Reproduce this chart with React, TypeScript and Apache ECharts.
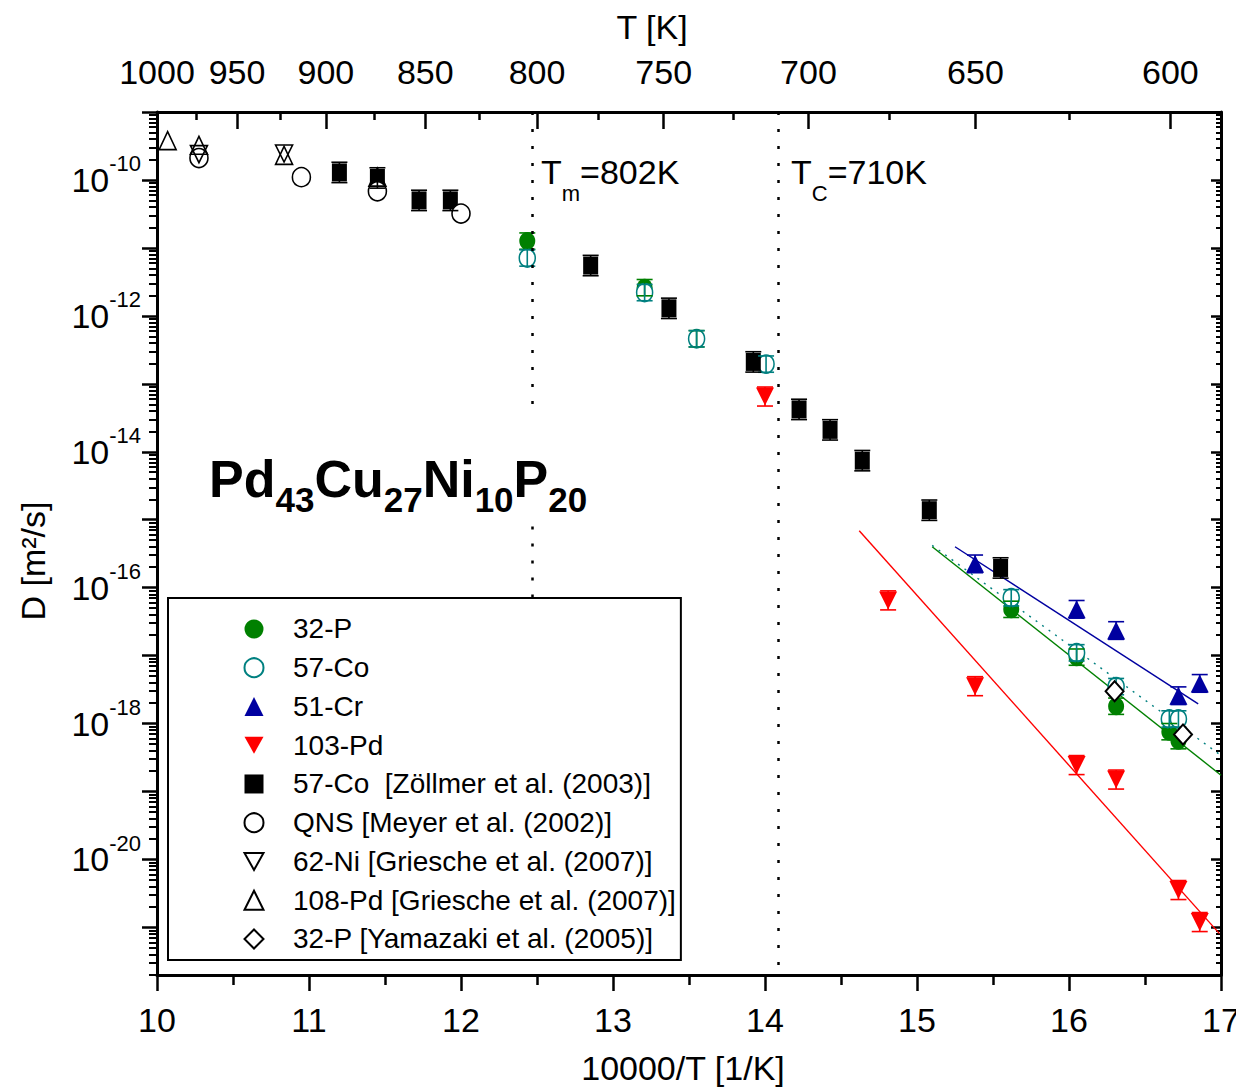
import React, { useEffect, useRef } from 'react';
import * as echarts from 'echarts';

const SANS = "'Liberation Sans', Arial, Helvetica, sans-serif";

// x = 10000/T [1/K], D [m^2/s]
const p32X = [12.436, 13.208, 13.55, 15.62, 16.05, 16.31, 16.66, 16.72];
const p32D = [1.26e-11, 2.6e-12, 4.6e-13, 4.8e-17, 9.5e-18, 1.8e-18, 7.6e-19, 5.6e-19];
const co57X = [12.436, 13.208, 13.55, 14.007, 15.62, 16.05, 16.31, 16.66, 16.72];
const co57D = [7.1e-12, 2.2e-12, 4.6e-13, 1.95e-13, 7.1e-17, 1.1e-17, 3.5e-18, 1.17e-18, 1.17e-18];
const cr51X = [15.382, 16.05, 16.31, 16.72, 16.86];
const cr51D = [2.24e-16, 4.8e-17, 2.34e-17, 2.57e-18, 3.9e-18];
const pd103X = [14.0, 14.81, 15.382, 16.05, 16.31, 16.72, 16.86];
const pd103D = [6.5e-14, 6.5e-17, 3.55e-18, 2.45e-19, 1.5e-19, 3.55e-21, 1.2e-21];
const zolX = [11.2, 11.45, 11.724, 11.93, 12.853, 13.368, 13.923, 14.224, 14.428, 14.64, 15.081, 15.55];
const zolD = [1.29e-10, 1.07e-10, 5.0e-11, 5.0e-11, 5.5e-12, 1.29e-12, 2.1e-13, 4.2e-14, 2.1e-14, 7.4e-15, 1.38e-15, 1.95e-16];
const qnsX = [10.276, 10.95, 11.45, 12.0];
const qnsD = [2.1e-10, 1.1e-10, 6.8e-11, 3.2e-11];
const ni62X = [10.276, 10.836];
const ni62D = [2.4e-10, 2.45e-10];
const pd108X = [10.07, 10.276, 10.836, 11.45];
const pd108D = [3.8e-10, 3.24e-10, 2.3e-10, 1.1e-10];
const yamX = [16.3, 16.75];
const yamD = [3.0e-18, 6.9e-19];

// Arrhenius fit lines (end points)
const fitPdX = [14.62, 16.99];
const fitPdD = [6.9e-16, 8.1e-22];
const fitPX = [15.1, 17.0];
const fitPD = [4.0e-16, 1.74e-19];
const fitCoX = [15.1, 17.0];
const fitCoD = [4.2e-16, 3.4e-19];
const fitCrX = [15.25, 16.85];
const fitCrD = [4.0e-16, 1.95e-18];

// error half-widths in decades
const errP32 = 0.12;
const errCo57 = 0.12;
const errCr51 = 0.13;
const errPd103 = 0.14;
const errZol = 0.15;

const TM = 802;
const TC = 710;
const topMajorT = [1000, 950, 900, 850, 800, 750, 700, 650, 600];
const topMinorT = [975, 925, 875, 825, 775, 725, 675, 625];
const yLabelExp = [-20, -18, -16, -14, -12, -10];
const X_MIN = 10;
const X_MAX = 17;
const Y_MIN = -21.7;
const Y_MAX = -9;

const legendNames = [
  '32-P',
  '57-Co',
  '51-Cr',
  '103-Pd',
  '57-Co  [Zöllmer et al. (2003)]',
  'QNS [Meyer et al. (2002)]',
  '62-Ni [Griesche et al. (2007)]',
  '108-Pd [Griesche et al. (2007)]',
  '32-P [Yamazaki et al. (2005)]',
];

const GREEN = '#008000';
const TEAL = '#008080';
const BLUE = '#0000A0';
const RED = '#FF0000';
const DOWN = 'path://M0,0L20,0L10,18Z';

const pts = (xs: number[], ds: number[]) => xs.map((x, i) => [x, Math.log10(ds[i])]);

function scatter(name: string, xs: number[], ds: number[], symbol: string, size: number[], itemStyle: any, z = 3) {
  return {
    type: 'scatter',
    name,
    data: pts(xs, ds),
    symbol,
    symbolSize: size,
    itemStyle: { opacity: 1, ...itemStyle },
    z,
    silent: true,
  };
}

function errBars(name: string, xs: number[], ds: number[], e: number, color: string) {
  return {
    type: 'custom',
    name,
    silent: true,
    z: 4,
    itemStyle: { color, opacity: 1 },
    data: xs.map((x, i) => {
      const l = Math.log10(ds[i]);
      return [x, l - e, l + e];
    }),
    encode: { x: 0, y: [1, 2] },
    renderItem: (params: any, api: any) => {
      const x = api.value(0);
      const lo = api.coord([x, api.value(1)]);
      const hi = api.coord([x, api.value(2)]);
      const w = 8;
      const st = { stroke: color, fill: 'none', lineWidth: 1.6, opacity: 1 };
      return {
        type: 'group',
        children: [
          { type: 'line', shape: { x1: lo[0], y1: lo[1], x2: hi[0], y2: hi[1] }, style: st },
          { type: 'line', shape: { x1: lo[0] - w, y1: lo[1], x2: lo[0] + w, y2: lo[1] }, style: st },
          { type: 'line', shape: { x1: hi[0] - w, y1: hi[1], x2: hi[0] + w, y2: hi[1] }, style: st },
        ],
      };
    },
  };
}

function fit(name: string, xs: number[], ds: number[], color: string, type: any = 'solid') {
  return {
    type: 'line',
    name,
    data: pts(xs, ds),
    showSymbol: false,
    symbol: 'none',
    silent: true,
    z: 2,
    lineStyle: { color, width: 1.4, type, opacity: 1 },
  };
}

const decades: number[] = [];
for (let n = -21; n <= -9; n++) decades.push(n);
const minors: number[] = [];
for (let n = -22; n <= -10; n++) {
  for (let k = 2; k <= 9; k++) {
    const v = n + Math.log10(k);
    if (v > Y_MIN && v < Y_MAX) minors.push(v);
  }
}

const tickLine = { color: '#000', width: 2.5 };
const axisLine = { show: true, onZero: false, lineStyle: { color: '#000', width: 3 } };
const FS = 34;

const option: any = {
  animation: false,
  backgroundColor: '#fff',
  grid: { left: 157, right: 15, top: 112, bottom: 115, containLabel: false, outerBoundsMode: 'none' },
  legend: {
    data: legendNames,
    orient: 'vertical',
    left: 168,
    top: 598,
    selectedMode: false,
    itemWidth: 19,
    itemHeight: 19,
    itemGap: 0,
    padding: [11.6, 5, 1.6, 75.5],
    backgroundColor: '#fff',
    borderColor: '#000',
    borderWidth: 2,
    borderRadius: 0,
    textStyle: { fontFamily: SANS, fontSize: 28, color: '#000', lineHeight: 38.75, padding: [0, 0, 0, 24.5] },
    z: 6,
  },
  xAxis: [
    {
      type: 'value',
      position: 'bottom',
      min: X_MIN,
      max: X_MAX,
      interval: 1,
      axisLine,
      axisTick: { show: true, inside: false, length: 16, lineStyle: tickLine },
      minorTick: { show: true, splitNumber: 2, length: 10, lineStyle: tickLine },
      axisLabel: { fontFamily: SANS, fontSize: FS, color: '#000', margin: 28, showMinLabel: true, showMaxLabel: true },
      splitLine: { show: false },
      minorSplitLine: { show: false },
      name: '10000/T [1/K]',
      nameLocation: 'middle',
      nameGap: 76,
      nameTextStyle: { fontFamily: SANS, fontSize: FS, color: '#000', padding: [0, 12, 0, 0] },
    },
    {
      type: 'value',
      position: 'top',
      min: X_MIN,
      max: X_MAX,
      axisLine,
      axisTick: { show: true, inside: true, length: 17, lineStyle: tickLine, customValues: topMajorT.map((t) => 10000 / t) },
      axisLabel: {
        customValues: topMajorT.map((t) => 10000 / t),
        formatter: (v: number) => String(Math.round(10000 / v)),
        fontFamily: SANS,
        fontSize: FS,
        color: '#000',
        margin: 23,
        showMinLabel: true,
        showMaxLabel: true,
      },
      splitLine: { show: false },
      name: 'T [K]',
      nameLocation: 'middle',
      nameGap: 68,
      nameTextStyle: { fontFamily: SANS, fontSize: FS, color: '#000', padding: [0, 74, 0, 0] },
    },
    {
      type: 'value',
      position: 'top',
      min: X_MIN,
      max: X_MAX,
      axisLine: { show: false },
      axisTick: { show: true, inside: true, length: 8, lineStyle: tickLine, customValues: topMinorT.map((t) => 10000 / t) },
      axisLabel: { show: false },
      splitLine: { show: false },
    },
  ],
  yAxis: [
    {
      type: 'value',
      position: 'left',
      min: Y_MIN,
      max: Y_MAX,
      axisLine,
      axisTick: { show: true, inside: false, length: 15, lineStyle: tickLine, customValues: decades },
      axisLabel: {
        customValues: yLabelExp,
        formatter: (v: number) => `{b|10}{s|${Math.round(v)}}`,
        margin: 16,
        color: '#000',
        rich: {
          b: { fontFamily: SANS, fontSize: FS, color: '#000' },
          s: { fontFamily: SANS, fontSize: 22, color: '#000', padding: [0, 0, 32, 0] },
        },
      },
      splitLine: { show: false },
      name: 'D [m²/s]',
      nameLocation: 'middle',
      nameGap: 107,
      nameTextStyle: { fontFamily: SANS, fontSize: 34, color: '#000', padding: [0, 35, 0, 0] },
    },
    {
      type: 'value',
      position: 'left',
      min: Y_MIN,
      max: Y_MAX,
      axisLine: { show: false },
      axisTick: { show: true, inside: false, length: 8, lineStyle: { color: '#000', width: 2 }, customValues: minors },
      axisLabel: { show: false },
      splitLine: { show: false },
    },
    {
      type: 'value',
      position: 'right',
      min: Y_MIN,
      max: Y_MAX,
      axisLine,
      axisTick: { show: true, inside: true, length: 10, lineStyle: tickLine, customValues: decades },
      axisLabel: { show: false },
      splitLine: { show: false },
    },
    {
      type: 'value',
      position: 'right',
      min: Y_MIN,
      max: Y_MAX,
      axisLine: { show: false },
      axisTick: { show: true, inside: true, length: 5, lineStyle: { color: '#000', width: 2 }, customValues: minors },
      axisLabel: { show: false },
      splitLine: { show: false },
    },
  ],
  series: [
    {
      type: 'line',
      name: 'Tm-Tc',
      data: [],
      silent: true,
      z: 2,
      markLine: {
        silent: true,
        symbol: ['none', 'none'],
        label: { show: false },
        lineStyle: { color: '#000', width: 2.5, type: [3, 14], opacity: 1 },
        data: [
          [{ coord: [10000 / TM, Y_MAX] }, { coord: [10000 / TM, -13.45] }],
          [{ coord: [10000 / TM, -15.1] }, { coord: [10000 / TM, -16.2] }],
          [{ coord: [10000 / TC, Y_MAX] }, { coord: [10000 / TC, Y_MIN] }],
        ],
      },
    },
    fit('fit-103Pd', fitPdX, fitPdD, RED),
    fit('fit-32P', fitPX, fitPD, GREEN),
    fit('fit-57Co', fitCoX, fitCoD, TEAL, [2, 6]),
    fit('fit-51Cr', fitCrX, fitCrD, BLUE),
    scatter(legendNames[0], p32X, p32D, 'circle', [16, 18], { color: GREEN }),
    scatter(legendNames[1], co57X, co57D, 'circle', [16, 18], { color: '#fff', borderColor: TEAL, borderWidth: 1.6 }),
    scatter(legendNames[2], cr51X, cr51D, 'triangle', [18, 18], { color: BLUE }),
    scatter(legendNames[3], pd103X, pd103D, DOWN, [18, 18], { color: RED }),
    scatter(legendNames[4], zolX, zolD, 'rect', [15, 18], { color: '#000' }),
    scatter(legendNames[5], qnsX, qnsD, 'circle', [18, 19], { color: '#fff', borderColor: '#000', borderWidth: 1.6 }),
    scatter(legendNames[6], ni62X, ni62D, DOWN, [17, 17], { color: 'rgba(255,255,255,0)', borderColor: '#000', borderWidth: 1.6 }),
    scatter(legendNames[7], pd108X, pd108D, 'triangle', [17, 18], { color: 'rgba(255,255,255,0)', borderColor: '#000', borderWidth: 1.6 }),
    errBars('err-32P', p32X, p32D, errP32, GREEN),
    errBars('err-57Co', co57X, co57D, errCo57, TEAL),
    errBars('err-51Cr', cr51X, cr51D, errCr51, BLUE),
    errBars('err-103Pd', pd103X, pd103D, errPd103, RED),
    errBars('err-Zol', zolX, zolD, errZol, '#000'),
    scatter(legendNames[8], yamX, yamD, 'diamond', [18, 20], { color: '#fff', borderColor: '#000', borderWidth: 2 }, 5),
  ],
  graphic: [
    {
      type: 'text',
      x: 541,
      y: 172,
      z: 10,
      style: {
        text: `{b|T}{s|m}{b|=${TM}K}`,
        rich: {
          b: { fontFamily: SANS, fontSize: 34, fill: '#000' },
          s: { fontFamily: SANS, fontSize: 22, fill: '#000', padding: [42, 0, 0, 0] },
        },
        align: 'left',
        verticalAlign: 'middle',
      },
    },
    {
      type: 'text',
      x: 791,
      y: 172,
      z: 10,
      style: {
        text: `{b|T}{s|C}{b|=${TC}K}`,
        rich: {
          b: { fontFamily: SANS, fontSize: 34, fill: '#000' },
          s: { fontFamily: SANS, fontSize: 22, fill: '#000', padding: [42, 0, 0, 0] },
        },
        align: 'left',
        verticalAlign: 'middle',
      },
    },
    {
      type: 'text',
      x: 209,
      y: 479,
      z: 10,
      style: {
        text: '{b|Pd}{s|43}{b|Cu}{s|27}{b|Ni}{s|10}{b|P}{s|20}',
        rich: {
          b: { fontFamily: SANS, fontSize: 52, fontWeight: 'bold', fill: '#000' },
          s: { fontFamily: SANS, fontSize: 35, fontWeight: 'bold', fill: '#000', padding: [41, 0, 0, 0] },
        },
        align: 'left',
        verticalAlign: 'middle',
      },
    },
  ],
};

export default function App() {
  const ref = useRef<HTMLDivElement>(null);
  useEffect(() => {
    if (!ref.current) return;
    const chart = echarts.init(ref.current, null, { renderer: 'svg' });
    chart.setOption(option);
    return () => chart.dispose();
  }, []);
  return (
    <div
      ref={ref}
      style={{ position: 'fixed', left: 0, top: 0, width: 1236, height: 1090, background: '#fff' }}
    />
  );
}
